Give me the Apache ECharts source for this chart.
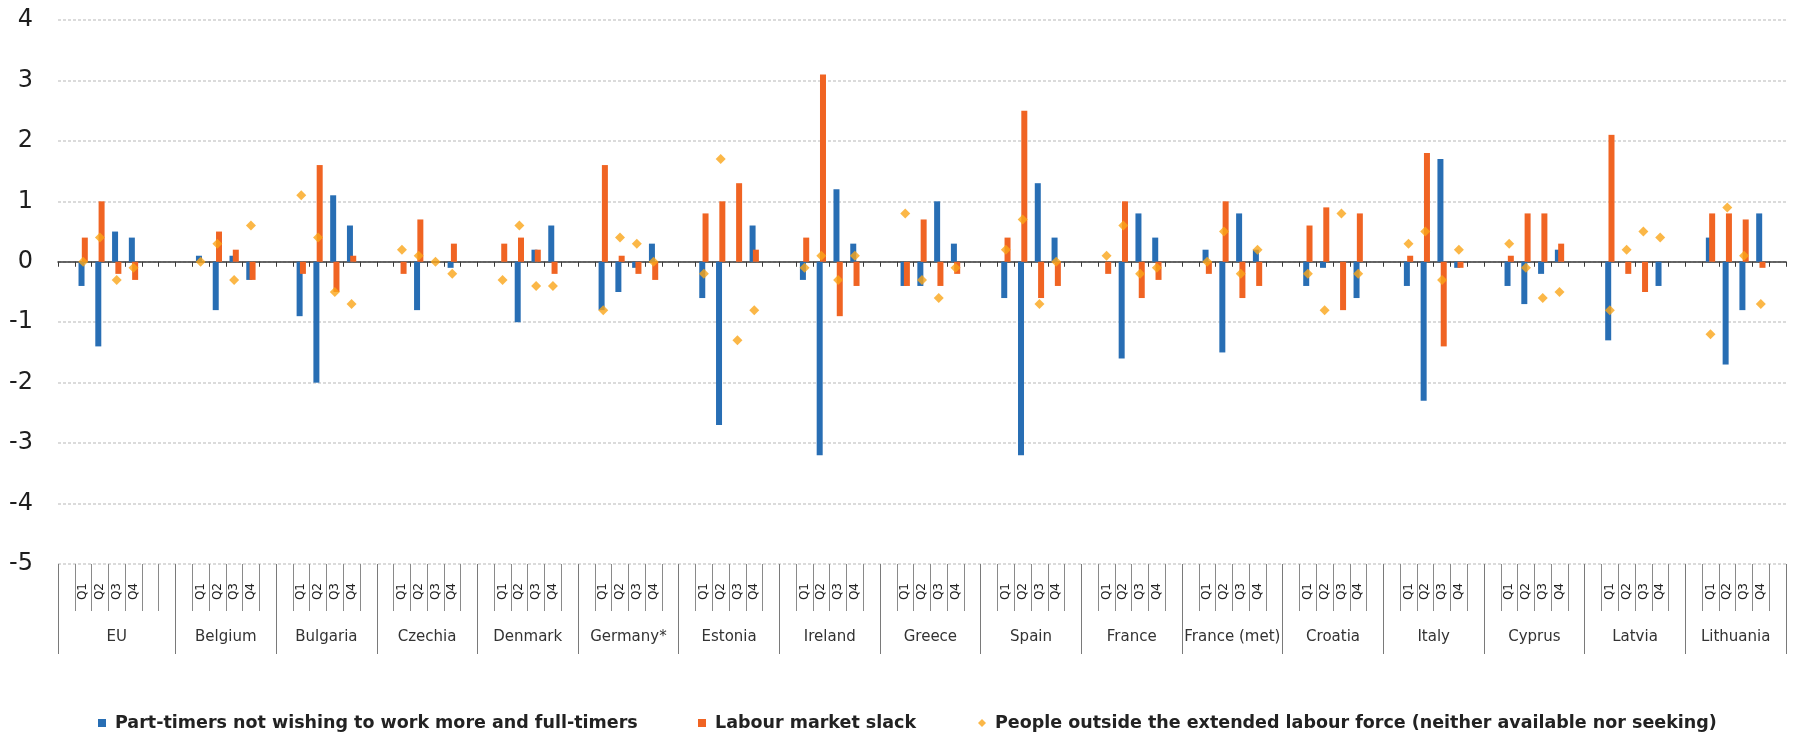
<!DOCTYPE html>
<html><head><meta charset="utf-8">
<script src="https://cdn.jsdelivr.net/npm/echarts@6/dist/echarts.min.js"></script>
<style>html,body{margin:0;padding:0;background:#fff}#chart{width:1796px;height:733px}</style>
</head><body><div id="chart"></div>
<script>
// ---- data ----
const countries = ['EU','Belgium','Bulgaria','Czechia','Denmark','Germany*','Estonia','Ireland','Greece','Spain','France','France (met)','Croatia','Italy','Cyprus','Latvia','Lithuania'];
const quarters = ['Q1','Q2','Q3','Q4'];
const seriesNames = ['Part-timers not wishing to work more and full-timers','Labour market slack','People outside the extended labour force (neither available nor seeking)'];
// values per country, Q1..Q4
const partTimers = [
  -0.4,-1.4,0.5,0.4,   0.1,-0.8,0.1,-0.3,   -0.9,-2.0,1.1,0.6,   0,-0.8,0,-0.1,
  0,-1.0,0.2,0.6,      -0.8,-0.5,-0.1,0.3,  -0.6,-2.7,0,0.6,     -0.3,-3.2,1.2,0.3,
  -0.4,-0.4,1.0,0.3,   -0.6,-3.2,1.3,0.4,   0,-1.6,0.8,0.4,      0.2,-1.5,0.8,0.2,
  -0.4,-0.1,0,-0.6,    -0.4,-2.3,1.7,-0.1,  -0.4,-0.7,-0.2,0.2,  -1.3,0,0,-0.4,
  0.4,-1.7,-0.8,0.8
];
const slack = [
  0.4,1.0,-0.2,-0.3,   0,0.5,0.2,-0.3,      -0.2,1.6,-0.5,0.1,   -0.2,0.7,0,0.3,
  0.3,0.4,0.2,-0.2,    1.6,0.1,-0.2,-0.3,   0.8,1.0,1.3,0.2,     0.4,3.1,-0.9,-0.4,
  -0.4,0.7,-0.4,-0.2,  0.4,2.5,-0.6,-0.4,   -0.2,1.0,-0.6,-0.3,  -0.2,1.0,-0.6,-0.4,
  0.6,0.9,-0.8,0.8,    0.1,1.8,-1.4,-0.1,   0.1,0.8,0.8,0.3,     2.1,-0.2,-0.5,0,
  0.8,0.8,0.7,-0.1
];
const outside = [
  0,0.4,-0.3,-0.1,     0,0.3,-0.3,0.6,      1.1,0.4,-0.5,-0.7,   0.2,0.1,0,-0.2,
  -0.3,0.6,-0.4,-0.4,  -0.8,0.4,0.3,0,      -0.2,1.7,-1.3,-0.8,  -0.1,0.1,-0.3,0.1,
  0.8,-0.3,-0.6,-0.1,  0.2,0.7,-0.7,0,      0.1,0.6,-0.2,-0.1,   0,0.5,-0.2,0.2,
  -0.2,-0.8,0.8,-0.2,  0.3,0.5,-0.3,0.2,    0.3,-0.1,-0.6,-0.5,  -0.8,0.2,0.5,0.4,
  -1.2,0.9,0.1,-0.7
];
const yMin = -5, yMax = 4, yStep = 1;

// ---- build category layout (blank slot before and after each country group) ----
const cats = [], qLabel = [], groupStarts = new Set(), centers = {};
const dBlue = [], dOrange = [], dDia = [];
countries.forEach((c, ci) => {
  const start = cats.length;
  groupStarts.add(start);
  const slots = [null, 0, 1, 2, 3, null];
  if (ci === 0) slots.push(null);
  slots.forEach((q, si) => {
    cats.push(c + '|' + si);
    if (q === null) {
      qLabel.push(''); dBlue.push('-'); dOrange.push('-'); dDia.push('-');
    } else {
      const k = ci * 4 + q;
      qLabel.push(quarters[q]);
      dBlue.push(partTimers[k]); dOrange.push(slack[k]); dDia.push(outside[k]);
    }
  });
  centers[(start + slots.length / 2).toFixed(1)] = c;
});
const N = cats.length;

const FONT = 'DejaVu Sans';
const chart = echarts.init(document.getElementById('chart'), null, {renderer: 'canvas'});
const legendBase = {
  orient: 'horizontal', top: 709, itemWidth: 8, itemHeight: 8,
  textStyle: {fontFamily: FONT, fontSize: 17.5, fontWeight: 'bold', color: '#222', padding: [0,0,0,4]}
};
chart.setOption({
  animation: false,
  backgroundColor: '#fff',
  grid: {left: 58, right: 10, top: 20, bottom: 169, containLabel: false},
  legend: [
    Object.assign({}, legendBase, {left: 93, data: [{name: seriesNames[0], icon: 'rect'}]}),
    Object.assign({}, legendBase, {left: 693, data: [{name: seriesNames[1], icon: 'rect'}]}),
    Object.assign({}, legendBase, {left: 973, data: [{name: seriesNames[2], icon: 'diamond'}]})
  ],
  xAxis: [
    { // zero line with small ticks
      type: 'category', data: cats, position: 'bottom', boundaryGap: true,
      axisLine: {show: true, onZero: true, lineStyle: {color: '#3a3a3a', width: 1.5}},
      axisTick: {show: true, interval: 0, length: 5, lineStyle: {color: '#3a3a3a', width: 1}},
      axisLabel: {show: false}, splitLine: {show: false}
    },
    { // quarter labels + inner separators
      type: 'category', data: cats, position: 'bottom', boundaryGap: true,
      axisLine: {show: false, onZero: false},
      axisTick: {show: true, interval: 0, length: 47, lineStyle: {color: '#8a8a8a', width: 1}},
      axisLabel: {show: true, interval: 0, rotate: 90, margin: 19, fontFamily: FONT, fontSize: 12, color: '#222',
        formatter: (v, i) => qLabel[i]},
      splitLine: {show: false}
    },
    { // country group separators
      type: 'category', data: cats, position: 'bottom', boundaryGap: true,
      axisLine: {show: false, onZero: false},
      axisTick: {show: true, interval: (i) => groupStarts.has(i), length: 90, lineStyle: {color: '#7a7a7a', width: 1}},
      axisLabel: {show: false}, splitLine: {show: false}
    },
    { // country names
      type: 'value', min: 0, max: N, interval: 0.5, position: 'bottom',
      axisLine: {show: false, onZero: false}, axisTick: {show: false}, splitLine: {show: false},
      axisLabel: {show: true, margin: 66, fontFamily: FONT, fontSize: 15, color: '#333',
        formatter: (v) => centers[v.toFixed(1)] || ''}
    }
  ],
  yAxis: {
    type: 'value', min: yMin, max: yMax, interval: yStep,
    axisLine: {show: false}, axisTick: {show: false},
    axisLabel: {fontFamily: FONT, fontSize: 24, color: '#1e1e1e', margin: 25},
    splitLine: {show: true, lineStyle: {color: '#cfcfcf', width: 1.5, type: [3, 2]}}
  },
  series: [
    {name: seriesNames[0], type: 'bar', xAxisIndex: 0, data: dBlue, barWidth: 6, barGap: '-45%',
      itemStyle: {color: '#286EB4'}},
    {name: seriesNames[1], type: 'bar', xAxisIndex: 0, data: dOrange, barWidth: 6, barGap: '-45%',
      itemStyle: {color: '#F06423'}},
    {name: seriesNames[2], type: 'scatter', xAxisIndex: 0, data: dDia, symbol: 'diamond', symbolSize: 10,
      itemStyle: {color: '#FAA519'}, z: 5}
  ]
});
</script></body></html>
